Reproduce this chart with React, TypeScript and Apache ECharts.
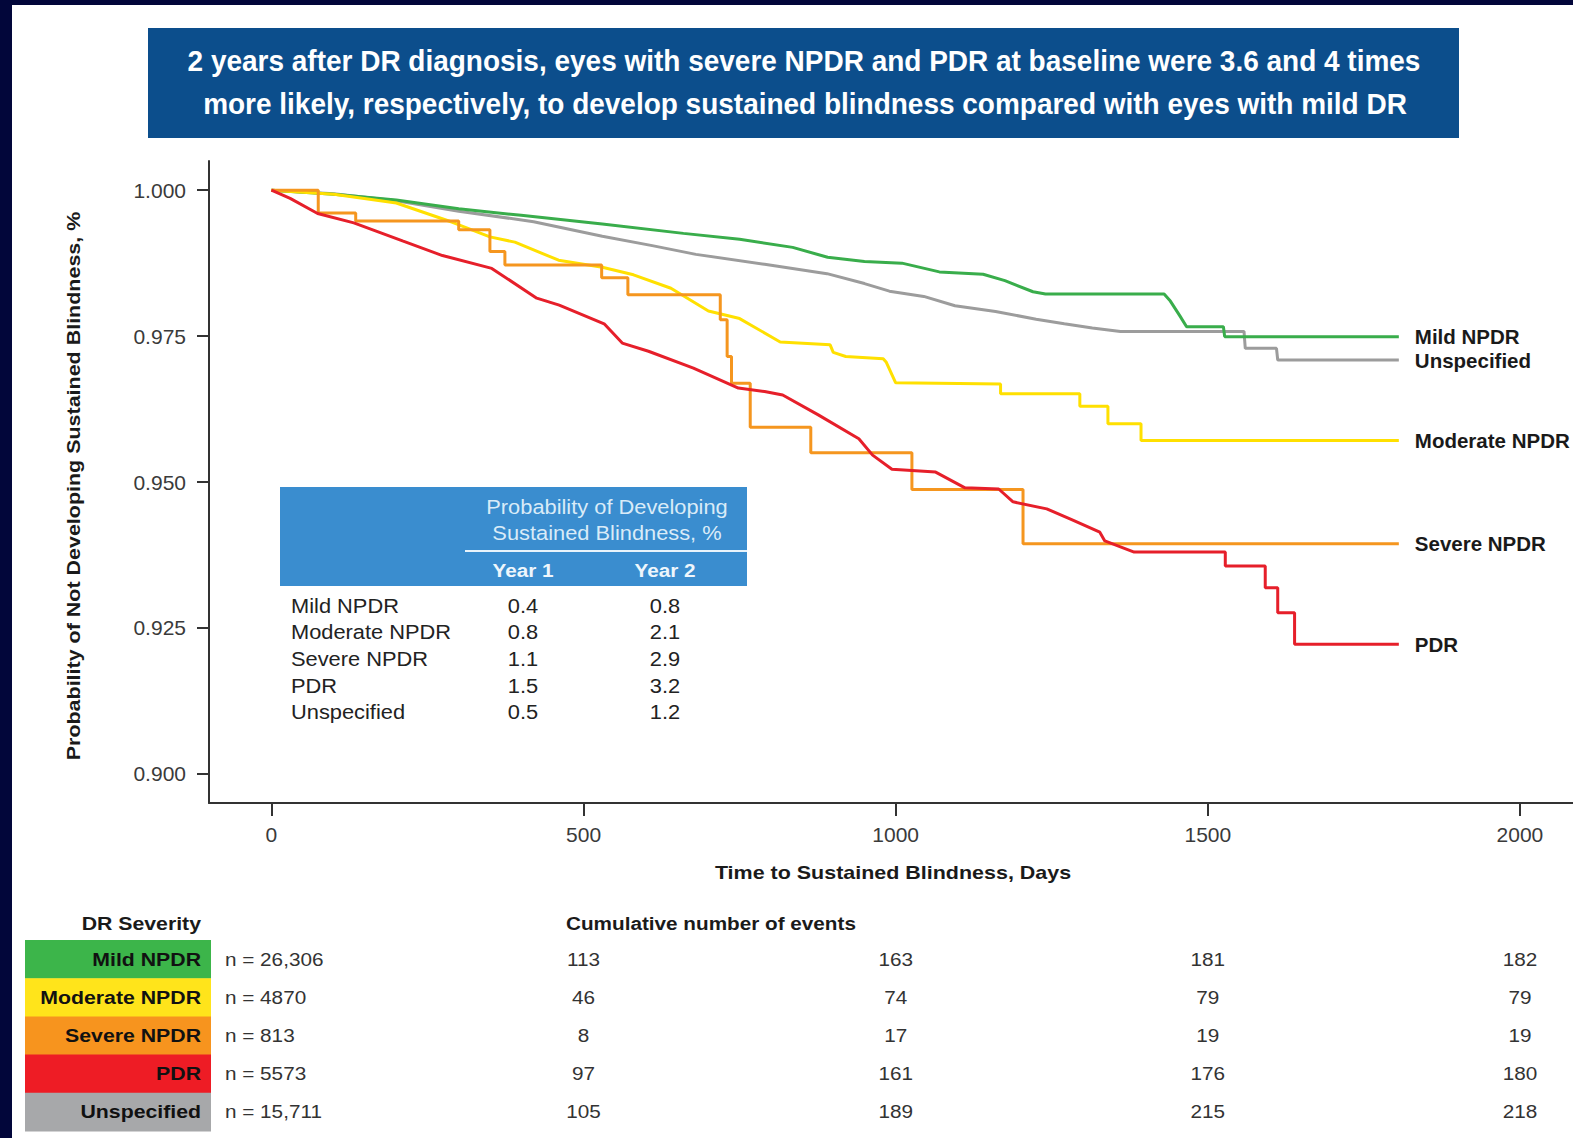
import React, { useEffect, useRef } from "react";
import * as echarts from "echarts";

const FONT = "'Liberation Sans', Arial, Helvetica, sans-serif";

const titleLines = [
  "2 years after DR diagnosis, eyes with severe NPDR and PDR at baseline were 3.6 and 4 times",
  "more likely, respectively, to develop sustained blindness compared with eyes with mild DR",
];

const severities = ["Mild NPDR", "Moderate NPDR", "Severe NPDR", "PDR", "Unspecified"];
const lineColors = ["#39ad4b", "#ffe000", "#f5961f", "#e61f2a", "#9c9c9c"];
const cellColors = ["#3cb54a", "#ffe41b", "#f7941e", "#ee1c25", "#a7a8aa"];

// Kaplan-Meier curves: [day, probability]
const mildNpdr = [
  [0, 1.0], [100, 0.9993], [200, 0.9983], [300, 0.9968], [400, 0.9957], [530, 0.9942],
  [660, 0.9926], [750, 0.9916], [835, 0.9902], [891, 0.9885], [950, 0.9878], [1010, 0.9875],
  [1070, 0.986], [1140, 0.9856], [1175, 0.9845], [1220, 0.9826], [1240, 0.9822],
  [1430, 0.9822], [1440, 0.981], [1455, 0.9785], [1466, 0.9766], [1525, 0.9766],
  [1527, 0.9749], [1806, 0.9749],
];
const moderateNpdr = [
  [0, 1.0], [100, 0.9993], [200, 0.9978], [290, 0.9945], [350, 0.992], [390, 0.9911],
  [460, 0.988], [530, 0.9868], [580, 0.9855], [640, 0.9832], [700, 0.9793], [750, 0.978],
  [815, 0.974], [895, 0.9735], [900, 0.9722], [920, 0.9715], [980, 0.9711], [985, 0.9705],
  [1000, 0.967], [1168, 0.9668], [1168, 0.9651], [1295, 0.9651], [1295, 0.963],
  [1340, 0.963], [1340, 0.96], [1393, 0.96], [1393, 0.9571], [1806, 0.9571],
];
const severeNpdr = [
  [0, 1.0], [75, 0.9961], [135, 0.9947], [300, 0.9932], [350, 0.9895], [374, 0.9872],
  [529, 0.985], [571, 0.9821], [719, 0.9778], [730, 0.9715], [737, 0.9669], [767, 0.9594],
  [864, 0.955], [1026, 0.9487], [1204, 0.9394], [1806, 0.9394],
];
const pdr = [
  [0, 1.0], [30, 0.9986], [74, 0.996], [132, 0.9944], [210, 0.9913], [274, 0.9888],
  [353, 0.9866], [425, 0.9815], [461, 0.9803], [533, 0.9771], [562, 0.9738], [604, 0.9724],
  [676, 0.9695], [748, 0.9661], [790, 0.9655], [819, 0.9649], [876, 0.9615], [941, 0.9574],
  [963, 0.9546], [994, 0.9522], [1064, 0.9517], [1111, 0.949], [1165, 0.9488], [1188, 0.9466],
  [1242, 0.9454], [1281, 0.9436], [1327, 0.9414], [1335, 0.9399], [1382, 0.938],
  [1528, 0.938], [1528, 0.9356], [1592, 0.9356], [1592, 0.9319], [1612, 0.9319],
  [1612, 0.9276], [1639, 0.9276], [1639, 0.9222], [1806, 0.9222],
];
const unspecified = [
  [0, 1.0], [100, 0.9994], [200, 0.9982], [300, 0.9964], [420, 0.9946], [530, 0.9921],
  [610, 0.9905], [680, 0.989], [790, 0.9873], [890, 0.9857], [950, 0.984], [990, 0.9827],
  [1045, 0.9818], [1095, 0.9802], [1160, 0.9792], [1225, 0.9779], [1270, 0.9771],
  [1315, 0.9764], [1360, 0.9758], [1558, 0.9758], [1560, 0.9729], [1610, 0.9729],
  [1612, 0.9709], [1806, 0.9709],
];
const curves = [mildNpdr, moderateNpdr, severeNpdr, pdr, unspecified];
const stepped = [false, false, true, false, false];

const xTicks = [0, 500, 1000, 1500, 2000];
const yTicks = [0.9, 0.925, 0.95, 0.975, 1.0];

// Inset table
const year1 = ["0.4", "0.8", "1.1", "1.5", "0.5"];
const year2 = ["0.8", "2.1", "2.9", "3.2", "1.2"];

// Risk table
const nLabels = ["n = 26,306", "n = 4870", "n = 813", "n = 5573", "n = 15,711"];
const eventDays = [500, 1000, 1500, 2000];
const cumulativeEvents = [
  [113, 163, 181, 182],
  [46, 74, 79, 79],
  [8, 17, 19, 19],
  [97, 161, 176, 180],
  [105, 189, 215, 218],
];

function measure(text: string, font: string): number {
  const c = document.createElement("canvas").getContext("2d");
  if (!c) return text.length * 15;
  c.font = font;
  return c.measureText(text).width;
}

type TOpts = { size?: number; bold?: boolean; fill?: string; align?: string; sx?: number; rot?: number };
function T(x: number, y: number, text: string, o: TOpts = {}) {
  const align = o.align ?? "left";
  return {
    type: "text",
    x,
    y,
    scaleX: o.sx ?? 1.12,
    rotation: o.rot ?? 0,
    silent: true,
    z: 10,
    style: {
      text,
      fill: o.fill ?? "#222",
      fontSize: o.size ?? 19,
      fontWeight: o.bold ? "bold" : "normal",
      fontFamily: FONT,
      align,
      textAlign: align,
      verticalAlign: "middle",
      textVerticalAlign: "middle",
    },
  };
}

export default function App() {
  const ref = useRef<HTMLDivElement>(null);

  useEffect(() => {
    if (!ref.current) return;
    const chart = echarts.init(ref.current, null, { renderer: "svg" });

    const order = [4, 0, 1, 2, 3];
    const series = order.map((i) => ({
      type: "line",
      name: severities[i],
      data: curves[i],
      step: stepped[i] ? "end" : false,
      symbol: "none",
      silent: true,
      lineStyle: { color: lineColors[i], width: 3 },
      itemStyle: { color: lineColors[i] },
      endLabel: {
        show: true,
        formatter: "{a}",
        distance: 16,
        fontSize: 20.5,
        fontWeight: "bold",
        fontFamily: FONT,
        color: "#1a1a1a",
      },
    }));

    chart.setOption({
      animation: false,
      backgroundColor: "#ffffff",
      grid: { left: 209, right: 0, top: 161, bottom: 335, containLabel: false },
      xAxis: {
        type: "value",
        min: -100,
        max: 2085,
        splitLine: { show: false },
        axisLine: { show: true, onZero: false, lineStyle: { color: "#333", width: 2 } },
        axisTick: { show: true, customValues: xTicks, length: 13, lineStyle: { color: "#333", width: 2 } },
        axisLabel: {
          customValues: xTicks,
          margin: 21,
          fontSize: 21,
          fontFamily: FONT,
          color: "#3a3a3a",
          formatter: (v: number) => String(v),
        },
      },
      yAxis: {
        type: "value",
        min: 0.895,
        max: 1.005,
        splitLine: { show: false },
        axisLine: { show: true, onZero: false, lineStyle: { color: "#333", width: 2 } },
        axisTick: { show: true, customValues: yTicks, length: 12, lineStyle: { color: "#333", width: 2 } },
        axisLabel: {
          customValues: yTicks,
          margin: 23,
          fontSize: 21,
          fontFamily: FONT,
          color: "#3a3a3a",
          formatter: (v: number) => v.toFixed(3),
        },
      },
      series,
    });

    const px = (d: number) => chart.convertToPixel({ xAxisIndex: 0 }, d) as number;

    const g: any[] = [];
    // navy frame
    g.push({ type: "rect", shape: { x: 0, y: 0, width: 1573, height: 5 }, style: { fill: "#02063a" }, silent: true });
    g.push({ type: "rect", shape: { x: 0, y: 0, width: 12, height: 1138 }, style: { fill: "#02063a" }, silent: true });

    // title box
    g.push({ type: "rect", shape: { x: 148, y: 28, width: 1311, height: 110 }, style: { fill: "#0c4e8c" }, silent: true });
    const tFont = `bold 29px ${FONT}`;
    const targets = [1233, 1204];
    const centers = [804, 805];
    const ys = [61, 104];
    titleLines.forEach((line, i) => {
      const sx = targets[i] / measure(line, tFont);
      g.push(T(centers[i], ys[i], line, { size: 29, bold: true, fill: "#ffffff", align: "center", sx }));
    });

    // axis titles
    g.push(T(73, 486, "Probability of Not Developing Sustained Blindness, %", { size: 19, bold: true, align: "center", rot: Math.PI / 2, sx: 1.13, fill: "#1a1a1a" }));
    g.push(T(893, 872, "Time to Sustained Blindness, Days", { size: 19, bold: true, align: "center", sx: 1.13, fill: "#1a1a1a" }));

    // inset table
    g.push({ type: "rect", shape: { x: 280, y: 487, width: 467, height: 99 }, style: { fill: "#3a8dcf" }, silent: true });
    g.push({ type: "line", shape: { x1: 465, y1: 551, x2: 747, y2: 551 }, style: { stroke: "#e8f3fb", lineWidth: 2 }, silent: true });
    g.push(T(607, 507, "Probability of Developing", { size: 19.5, fill: "#d9ebf8", align: "center" }));
    g.push(T(607, 533, "Sustained Blindness, %", { size: 19.5, fill: "#d9ebf8", align: "center" }));
    g.push(T(523, 570, "Year 1", { size: 18.5, bold: true, fill: "#eef6fc", align: "center" }));
    g.push(T(665, 570, "Year 2", { size: 18.5, bold: true, fill: "#eef6fc", align: "center" }));
    const rowYs = [606, 632, 659, 686, 712];
    severities.forEach((s, i) => {
      g.push(T(291, rowYs[i], s, { size: 19.5, fill: "#222" }));
      g.push(T(523, rowYs[i], year1[i], { size: 19.5, fill: "#222", align: "center" }));
      g.push(T(665, rowYs[i], year2[i], { size: 19.5, fill: "#222", align: "center" }));
    });

    // risk table
    g.push(T(201, 923, "DR Severity", { size: 19, bold: true, align: "right", fill: "#1a1a1a" }));
    g.push(T(566, 923, "Cumulative number of events", { size: 18.5, bold: true, fill: "#1a1a1a" }));
    const rowTop = 940;
    const rowH = 38.2;
    severities.forEach((s, i) => {
      const y0 = rowTop + rowH * i;
      const yc = y0 + rowH / 2;
      g.push({ type: "rect", shape: { x: 25, y: y0, width: 186, height: rowH + 0.5 }, style: { fill: cellColors[i] }, silent: true });
      g.push(T(201, yc, s, { size: 19, bold: true, align: "right", fill: "#111" }));
      g.push(T(225, yc, nLabels[i], { size: 18.5, fill: "#333" }));
      eventDays.forEach((d, j) => {
        g.push(T(px(d), yc, String(cumulativeEvents[i][j]), { size: 18.5, fill: "#333", align: "center" }));
      });
    });

    chart.setOption({ graphic: g });

    return () => {
      chart.dispose();
    };
  }, []);

  return (
    <div
      ref={ref}
      style={{ position: "absolute", left: 0, top: 0, width: 1573, height: 1138, background: "#fff" }}
    />
  );
}
